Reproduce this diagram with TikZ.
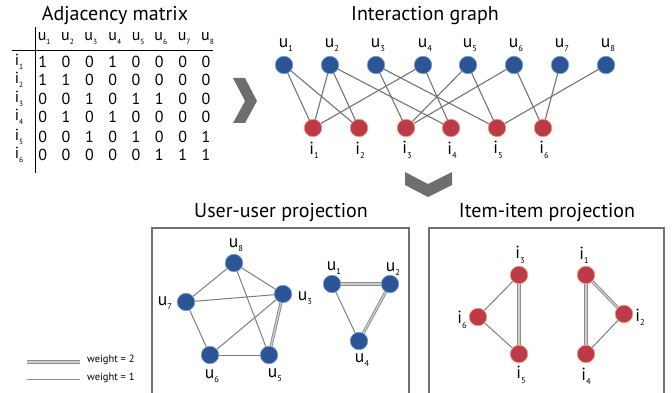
\documentclass[tikz,border=0pt]{standalone}
\usepackage{fontspec}
\setmainfont{PT Sans}
\definecolor{ublue}{RGB}{45,85,150}
\definecolor{uborder}{RGB}{110,160,220}
\definecolor{ired}{RGB}{190,58,72}
\definecolor{iborder}{RGB}{235,160,110}
\definecolor{egray}{RGB}{115,115,115}
\definecolor{pgray}{RGB}{125,125,125}
\definecolor{dgray}{RGB}{140,140,140}
\definecolor{dfill}{RGB}{205,205,205}
\definecolor{boxgray}{RGB}{112,112,112}
\definecolor{chev}{RGB}{110,110,110}
\newcommand\lbl[2]{#1\raisebox{-0.5ex}{\fontsize{8.5}{9}\selectfont #2}}
\newcommand\mlbl[2]{#1\raisebox{-0.5ex}{\fontsize{7.5}{8}\selectfont #2}}
\begin{document}
\begin{tikzpicture}[x=1pt,y=-1pt,
  unode/.style={circle,fill=ublue,draw=uborder,line width=0.6pt,minimum size=17.5pt,inner sep=0pt},
  inode/.style={circle,fill=ired,draw=iborder,line width=0.6pt,minimum size=17.5pt,inner sep=0pt},
  bedge/.style={draw=egray,line width=1.1pt},
  pedge/.style={draw=pgray,line width=1pt},
  wedge/.style={draw=dgray,line width=0.9pt,double=dfill,double distance=1.3pt},
  title/.style={font=\fontsize{20}{21}\selectfont,inner sep=0pt},
  lab/.style={font=\fontsize{17.5}{18}\selectfont,inner sep=0pt},
  mcell/.style={font=\fontsize{16}{17}\selectfont,inner sep=0pt},
  pbox/.style={draw=boxgray,line width=2.2pt}
]
\useasboundingbox (0,0) rectangle (672,393);
% ---------- Adjacency matrix ----------
\node[title] (tadj) at (115,16) {Adjacency matrix};
\foreach \c/\x in {1/42.7,2/66,3/89.3,4/113.3,5/136.7,6/159.3,7/182.7,8/206}{
  \node[mcell] (mh\c) at (\x+1.5,39) {\mlbl{u}{\c}};
}
\foreach \r/\y in {1/61.7,2/79.5,3/99,4/117.3,5/136.7,6/155}{
  \node[mcell] (mr\r) at (19,\y) {\mlbl{i}{\r}};
}
\coordinate (vtop) at (35,27);
\coordinate (vbot) at (35,173);
\coordinate (hl) at (12,50);
\coordinate (hr) at (213,50);
\draw[line width=0.8pt] (vtop) -- (vbot);
\draw[line width=0.8pt] (hl) -- (hr);
\foreach \r/\y/\vals in {1/61.7/{1,0,0,1,0,0,0,0},2/79.5/{1,1,0,0,0,0,0,0},3/99/{0,0,1,0,1,1,0,0},4/117.3/{0,1,0,1,0,0,0,0},5/136.7/{0,0,1,0,1,0,0,1},6/155/{0,0,0,0,0,1,1,1}}{
  \foreach \v [count=\c] in \vals {
    \pgfmathsetmacro\xx{42.7+23.33*(\c-1)}
    \node[mcell] (m\r\c) at (\xx,\y) {\v};
  }
}
% ---------- chevrons ----------
\fill[chev] (233,78) -- (245,78) -- (257,101) -- (245,123) -- (233,123) -- (245,101) -- cycle;
\fill[chev] (405,172) -- (428,184) -- (452,172) -- (452,185) -- (428,197) -- (405,185) -- cycle;
% ---------- Interaction graph ----------
\node[title] (tint) at (425,16) {Interaction graph};
\foreach \a/\ax/\b/\bx in {1/284/1/313,1/284/2/359,2/330/1/313,2/330/2/359,2/330/4/451,3/376/3/406,3/376/5/497,4/423/1/313,4/423/4/451,5/468/3/406,5/468/5/497,6/514/3/406,6/514/6/543,7/560/6/543,8/606/5/497}{
}
\foreach \k/\x in {1/284,2/330,3/376,4/423,5/468,6/514,7/560,8/606}{
  \node[lab] (bul\k) at (\x+2,45) {\lbl{u}{\k}};
}
\foreach \k/\x in {1/313,2/359,3/406,4/451,5/497,6/543}{
  \node[lab] (bil\k) at (\x+1,150) {\lbl{i}{\k}};
}
\foreach \k/\x in {1/284,2/330,3/376,4/423,5/468,6/514,7/560,8/606}{
  \coordinate (bc\k) at (\x,65);
}
\foreach \k/\x in {1/313,2/359,3/406,4/451,5/497,6/543}{
  \coordinate (ic\k) at (\x,128);
}
\foreach \a/\b in {1/1,1/2,2/1,2/2,2/4,3/3,3/5,4/1,4/4,5/3,5/5,6/3,6/6,7/6,8/5}{
  \draw[bedge] (bc\a) -- (ic\b);
}
\foreach \k in {1,...,8}{
  \node[unode] (bu\k) at (bc\k) {};
}
\foreach \k in {1,...,6}{
  \node[inode] (bi\k) at (ic\k) {};
}
% ---------- boxes ----------
\node[title] (tuu) at (281,213) {User-user projection};
\node[title] (tii) at (547,213) {Item-item projection};
\draw[pbox] (152,400) -- (152,228) -- (409,228) -- (409,400);
\draw[pbox] (429,400) -- (429,228) -- (664,228) -- (664,400);
% ---------- user-user projection ----------
\node[unode] (pu8) at (234,263) {};
\node[unode] (pu7) at (186,302) {};
\node[unode] (pu3) at (283,294) {};
\node[unode] (pu6) at (210,355) {};
\node[unode] (pu5) at (269,355) {};
\node[unode] (pu1) at (332,284) {};
\node[unode] (pu2) at (390,284) {};
\node[unode] (pu4) at (359,341) {};
\node[lab] (pl8) at (236,245) {\lbl{u}{8}};
\node[lab] (pl7) at (165,303) {\lbl{u}{7}};
\node[lab] (pl3) at (305,298) {\lbl{u}{3}};
\node[lab] (pl6) at (212,376) {\lbl{u}{6}};
\node[lab] (pl5) at (275,375) {\lbl{u}{5}};
\node[lab] (pl1) at (334,268) {\lbl{u}{1}};
\node[lab] (pl2) at (393,269) {\lbl{u}{2}};
\node[lab] (pl4) at (362,360) {\lbl{u}{4}};
\foreach \a/\b in {7/8,8/3,8/5,7/3,7/6,6/3,6/5,1/4}{
  \draw[pedge] (pu\a) -- (pu\b);
}
\foreach \a/\b in {3/5,1/2,2/4}{
  \draw[wedge] (pu\a) -- (pu\b);
}
% ---------- item-item projection ----------
\node[inode] (pi3) at (519,275) {};
\node[inode] (pi6) at (478,317) {};
\node[inode] (pi5) at (519,354) {};
\node[inode] (pi1) at (586,275) {};
\node[inode] (pi2) at (624,314) {};
\node[inode] (pi4) at (586,354) {};
\node[lab] (ql3) at (520,255) {\lbl{i}{3}};
\node[lab] (ql6) at (462,320) {\lbl{i}{6}};
\node[lab] (ql5) at (521,375) {\lbl{i}{5}};
\node[lab] (ql1) at (584,255) {\lbl{i}{1}};
\node[lab] (ql2) at (640,317) {\lbl{i}{2}};
\node[lab] (ql4) at (586,376) {\lbl{i}{4}};
\foreach \a/\b in {3/6,6/5,2/4}{
  \draw[pedge] (pi\a) -- (pi\b);
}
\foreach \a/\b in {3/5,1/2,1/4}{
  \draw[wedge] (pi\a) -- (pi\b);
}
% ---------- legend ----------
\coordinate (l2a) at (27,362);
\coordinate (l2b) at (80,362);
\coordinate (l1a) at (27,379);
\coordinate (l1b) at (80,379);
\draw[wedge] (l2a) -- (l2b);
\draw[pedge,draw=dgray] (l1a) -- (l1b);
\node[anchor=west,font=\fontsize{10.5}{11}\selectfont,inner sep=0pt] (lt2) at (87,360) {weight = 2};
\node[anchor=west,font=\fontsize{10.5}{11}\selectfont,inner sep=0pt] (lt1) at (87,378) {weight = 1};
\end{tikzpicture}
\end{document}
